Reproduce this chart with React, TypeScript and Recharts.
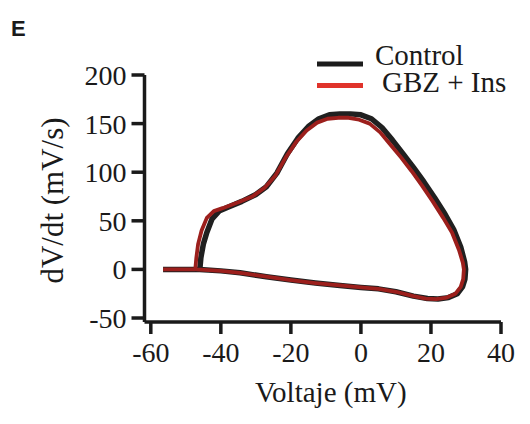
import { LineChart, Line, XAxis, YAxis } from "recharts";

// Control trace (black): membrane voltage (mV) vs dV/dt (mV/s), loop order
const controlV = [
  -56.5, -50, -46, -45.7, -45, -44, -42.5, -40.5, -38, -34, -30, -27, -24, -21, -18, -15, -12, -9, -6, -3,
  0, 3, 6, 9, 12, 15, 18, 21, 24, 26.5, 28.5, 29.6, 29.9, 29.7, 29, 27.5, 25, 22, 19, 15,
  10, 5, 0, -6, -13, -20, -27, -34.5, -40, -46,
];
const controlDvdt = [
  0, 0, 0, 12, 26, 38, 52, 60, 64, 70, 77, 85, 99, 119, 135, 147, 155, 159, 160, 160,
  159, 155, 146, 133, 119, 105, 90, 74, 57, 41, 23, 8, 0, -10, -18, -25, -29, -30.5, -30, -27.5,
  -23, -20, -18.5, -16.5, -14, -11, -7.5, -3.5, -1.5, 0,
];

// GBZ + Ins trace (red)
const gbzV = [
  -56.5, -50, -47.3, -47, -46.5, -45.5, -44, -42, -39.5, -35, -31, -27.5, -24.5, -21.5, -18.5, -15.5, -12.5, -9.5, -6.5, -3.5,
  -0.5, 2.5, 5.5, 8.5, 11.5, 14.5, 17.5, 20.5, 23.5, 26, 28, 29.1, 29.4, 29.2, 28.5, 27, 24.5, 21.5, 18.5, 15,
  10, 5, 0, -6, -13, -20, -27, -34.5, -40, -47,
];
const gbzDvdt = [
  0, 0, 0, 12, 26, 40, 53, 60, 63, 69, 75, 84, 96, 115, 131, 143, 151, 155, 156, 156,
  154, 150, 141, 128, 115, 101, 86, 70, 53, 38, 20, 7, 0, -10, -18, -25, -29, -30.5, -30, -27.5,
  -23, -20, -18.5, -16.5, -14, -11, -7.5, -3.5, -1.5, 0,
];

const xTicks = [-60, -40, -20, 0, 20, 40];
const yTicks = [-50, 0, 50, 100, 150, 200];

const controlData = controlV.map((v, i) => ({ v, d: controlDvdt[i] }));
const gbzData = gbzV.map((v, i) => ({ v, d: gbzDvdt[i] }));

const serif = "'Liberation Serif', 'Times New Roman', Times, serif";
const ink = "#1a1a1a";

// legend drawn as an overlay so it doesn't eat plot space
function LegendBox() {
  return (
    <svg width={215} height={70} style={{ position: "absolute", left: 300, top: 35, fontFamily: serif }}>
      <line x1={17} x2={63} y1={29} y2={29} stroke="#1c1c1c" strokeWidth={5} />
      <text x={75} y={30} fontSize={29} fill={ink}>Control</text>
      <line x1={17} x2={63} y1={50.5} y2={50.5} stroke="#e0332b" strokeWidth={5} />
      <text x={82} y={57} fontSize={29} fill={ink}>GBZ + Ins</text>
    </svg>
  );
}

export default function App() {
  return (
    <div style={{ position: "absolute", left: 0, top: 0, width: 530, height: 424, background: "#fff", fontFamily: serif }}>
      <LineChart width={530} height={424} margin={{ top: 75, right: 29, bottom: 0, left: 0 }} style={{ fontFamily: serif }}>
        <XAxis
          type="number"
          dataKey="v"
          domain={[-61.8, 40]}
          ticks={xTicks}
          allowDataOverflow
          height={102}
          stroke={ink}
          strokeWidth={3.5}
          tickSize={12}
          tickMargin={8}
          tick={{ fill: ink, fontSize: 28, style: { fontFamily: serif } }}
          label={{ value: "Voltaje (mV)", position: "insideBottom", offset: 22, dx: 8, fill: ink, fontSize: 29, style: { fontFamily: serif } }}
        />
        <YAxis
          type="number"
          dataKey="d"
          domain={[-54.1, 200]}
          ticks={yTicks}
          interval={0}
          allowDataOverflow
          width={144.5}
          stroke={ink}
          strokeWidth={3.5}
          tickSize={13}
          tickMargin={5}
          tick={{ fill: ink, fontSize: 28, style: { fontFamily: serif } }}
          label={{ value: "dV/dt (mV/s)", angle: -90, position: "center", dx: -20, dy: 2, fill: ink, fontSize: 31, style: { fontFamily: serif } }}
        />
        <Line
          data={controlData}
          dataKey="d"
          name="Control"
          type="linear"
          stroke="#202020"
          strokeWidth={5.5}
          strokeLinejoin="round"
          dot={false}
          isAnimationActive={false}
        />
        <Line
          data={gbzData}
          dataKey="d"
          name="GBZ + Ins"
          type="linear"
          stroke="#9c1f1c"
          strokeWidth={3.8}
          strokeLinejoin="round"
          dot={false}
          isAnimationActive={false}
        />
      </LineChart>
      <LegendBox />
      <div
        style={{
          position: "absolute",
          left: 11,
          top: 15,
          fontFamily: "'Liberation Sans', Arial, sans-serif",
          fontWeight: 700,
          fontSize: 22,
          color: ink,
          lineHeight: "28px",
        }}
      >
        E
      </div>
    </div>
  );
}
